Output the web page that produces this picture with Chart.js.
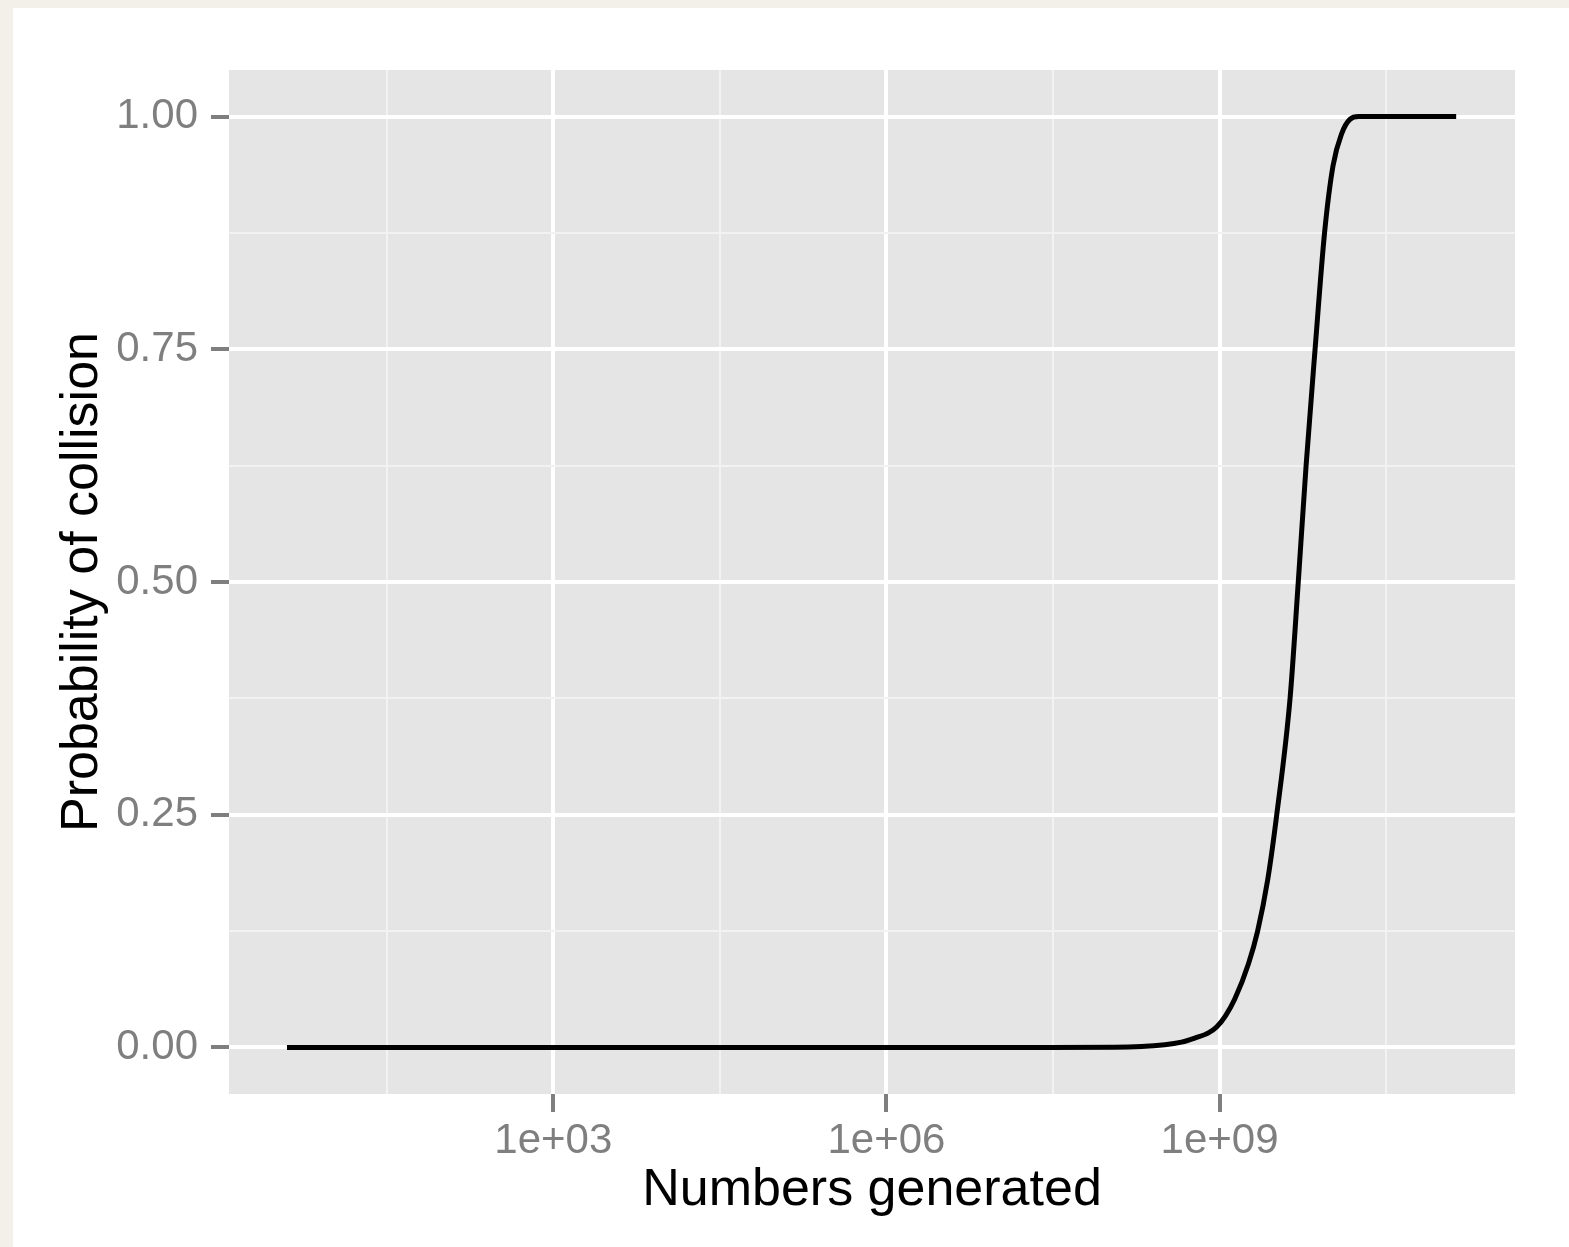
<!DOCTYPE html>
<html>
<head>
<meta charset="utf-8">
<script src="https://cdn.jsdelivr.net/npm/chart.js@4/dist/chart.umd.min.js"></script>
<style>
  body { margin: 0; background: #f3f0ea; }
  #card { position: absolute; left: 13px; top: 8px; right: 0; bottom: 0; background: #ffffff; }
  #wrap { position: absolute; left: 0; top: 0; width: 1569px; height: 1247px; }
</style>
</head>
<body>
<div id="card"></div>
<div id="wrap"><canvas id="chart"></canvas></div>
<script>
// numbers generated
const numbersGenerated = [4, 1e3, 1e6, 3e7, 1.13e8, 3.21e8, 4.54e8, 5.98e8, 8.0e8, 9.4e8, 1.13e9, 1.37e9, 1.82e9,
    2.2e9, 2.71e9, 3.27e9, 4.31e9, 5.11e9, 6.01e9, 7.24e9, 8.81e9, 1.05e10, 1.26e10, 1.49e10, 1.79e10, 1.35e11];
// probability of collision at those points
const collisionProb = [0, 0, 0, 0, 0.0003, 0.003, 0.0057, 0.010, 0.016, 0.022, 0.034, 0.052, 0.090,
    0.125, 0.18, 0.25, 0.375, 0.5, 0.625, 0.75, 0.875, 0.947, 0.982, 0.997, 1.0, 1.0];

// x grid: minor / major alternating, majors labelled
const xGridValues = [Math.pow(10, 1.5), 1e3, Math.pow(10, 4.5), 1e6, Math.pow(10, 7.5), 1e9, Math.pow(10, 10.5)];
const xTickLabels = ['', '1e+03', '', '1e+06', '', '1e+09', ''];
const yGridValues = [0, 0.125, 0.25, 0.375, 0.5, 0.625, 0.75, 0.875, 1];
const yTickLabels = ['0.00', '', '0.25', '', '0.50', '', '0.75', '', '1.00'];

const panelBg = {
    id: 'panelBg',
    beforeDraw(chart) {
        const a = chart.chartArea;
        const c = chart.ctx;
        c.save();
        c.fillStyle = '#e5e5e5';
        c.fillRect(a.left, a.top, a.right - a.left, a.bottom - a.top);
        c.restore();
    }
};

const FONT = "'Liberation Sans', Arial, Helvetica, sans-serif";

new Chart(document.getElementById('chart'), {
    type: 'line',
    data: {
        datasets: [{
            data: numbersGenerated.map((n, i) => ({ x: n, y: collisionProb[i] })),
            borderColor: '#000000',
            borderWidth: 5,
            pointRadius: 0,
            fill: false,
            cubicInterpolationMode: 'monotone'
        }]
    },
    options: {
        responsive: true,
        maintainAspectRatio: false,
        animation: false,
        layout: { autoPadding: false, padding: { left: 0, top: 70, right: 54, bottom: 0 } },
        plugins: { legend: { display: false }, tooltip: { enabled: false } },
        scales: {
            x: {
                type: 'logarithmic',
                min: Math.pow(10, 0.08),
                max: Math.pow(10, 11.66),
                afterBuildTicks(scale) {
                    scale.ticks = xGridValues.map(v => ({ value: v }));
                },
                afterFit(scale) { scale.height = 153; },
                border: { display: false },
                grid: {
                    color: ctx => ctx.index % 2 === 1 ? '#ffffff' : '#f2f2f2',
                    lineWidth: ctx => ctx.index % 2 === 1 ? 4 : 2,
                    tickColor: ctx => ctx.index % 2 === 1 ? '#7f7f7f' : 'rgba(0,0,0,0)',
                    tickWidth: 4,
                    tickLength: 18
                },
                ticks: {
                    autoSkip: false,
                    maxRotation: 0,
                    padding: 4,
                    color: '#7f7f7f',
                    font: { family: FONT, size: 42 },
                    callback: (v, i) => xTickLabels[i]
                },
                title: {
                    display: true,
                    text: 'Numbers generated',
                    color: '#000000',
                    font: { family: FONT, size: 52 },
                    padding: { top: 0, bottom: 25 }
                }
            },
            y: {
                type: 'linear',
                min: -0.05,
                max: 1.05,
                afterBuildTicks(scale) {
                    scale.ticks = yGridValues.map(v => ({ value: v }));
                },
                afterFit(scale) { scale.width = 229; },
                border: { display: false },
                grid: {
                    color: ctx => ctx.index % 2 === 0 ? '#ffffff' : '#f2f2f2',
                    lineWidth: ctx => ctx.index % 2 === 0 ? 4 : 2,
                    tickColor: ctx => ctx.index % 2 === 0 ? '#7f7f7f' : 'rgba(0,0,0,0)',
                    tickWidth: 4,
                    tickLength: 18
                },
                ticks: {
                    autoSkip: false,
                    padding: 13,
                    color: '#7f7f7f',
                    font: { family: FONT, size: 42 },
                    callback: (v, i) => yTickLabels[i]
                },
                title: {
                    display: true,
                    text: 'Probability of collision',
                    color: '#000000',
                    font: { family: FONT, size: 52 },
                    padding: { top: 51, bottom: 0 }
                }
            }
        }
    },
    plugins: [panelBg]
});
</script>
</body>
</html>
